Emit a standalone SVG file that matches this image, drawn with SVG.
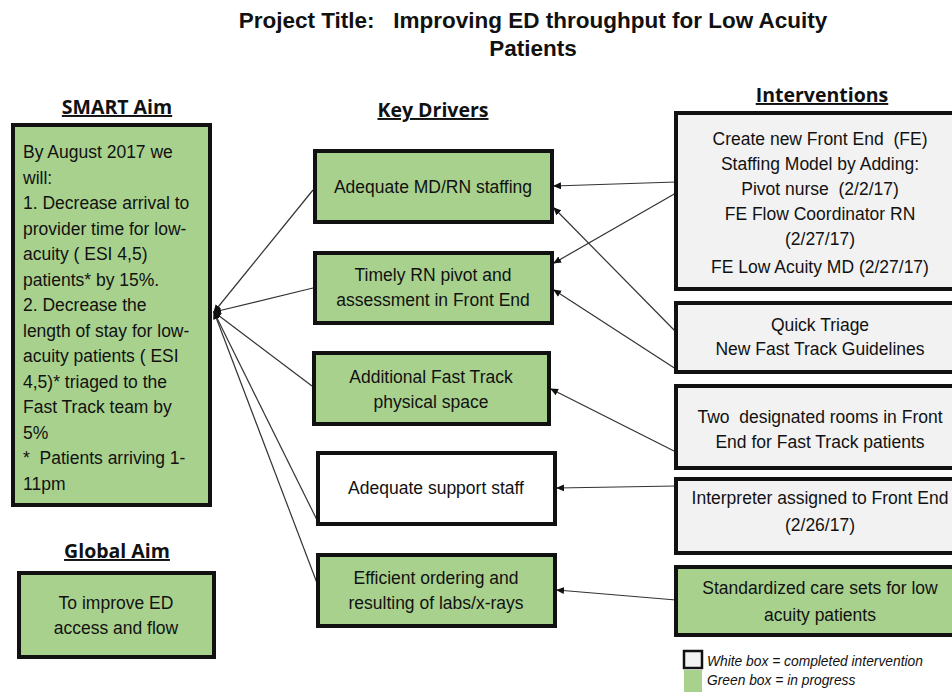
<svg xmlns="http://www.w3.org/2000/svg" width="952" height="692" viewBox="0 0 952 692">
<style>
.t{font-family:"Liberation Sans",Arial,sans-serif;font-size:17.5px;fill:#111;}
.c{text-anchor:middle;}
.h{font-family:"Open Sans",Lato,sans-serif;font-weight:bold;font-size:19.5px;fill:#111;text-anchor:middle;text-decoration:underline;}
.title{font-family:"Liberation Sans",Arial,sans-serif;font-weight:bold;font-size:22.5px;fill:#111;text-anchor:middle;}
.g{fill:#a9d18e;stroke:#111;stroke-width:4;}
.w{fill:#ffffff;stroke:#111;stroke-width:4;}
.i{fill:#f2f2f3;stroke:#111;stroke-width:4;}
.ln{stroke:#333;stroke-width:1.2;fill:none;}
.lg{font-family:"Liberation Sans",Arial,sans-serif;font-style:italic;font-size:13.8px;fill:#111;}
</style>
<defs>
<marker id="ah" markerWidth="8" markerHeight="8" refX="7" refY="4" orient="auto" markerUnits="userSpaceOnUse">
<path d="M0,0.5 L8,4 L0,7.5 Z" fill="#111"/>
</marker>
</defs>
<rect width="952" height="692" fill="#ffffff"/>

<g id="title">
<text class="title" x="533" y="28" xml:space="preserve">Project Title:   Improving ED throughput for Low Acuity</text>
<text class="title" x="533" y="56">Patients</text>
</g>

<g id="headers">
<text class="h" x="117" y="114">SMART Aim</text>
<text class="h" x="433" y="117">Key Drivers</text>
<text class="h" x="822" y="102">Interventions</text>
<text class="h" x="117" y="558">Global Aim</text>
</g>

<g id="connectors">
<line class="ln" x1="313" y1="190" x2="214" y2="312" marker-end="url(#ah)"/>
<line class="ln" x1="313" y1="288" x2="214" y2="312" marker-end="url(#ah)"/>
<line class="ln" x1="312" y1="386" x2="214" y2="312" marker-end="url(#ah)"/>
<line class="ln" x1="317" y1="520" x2="214" y2="312" marker-end="url(#ah)"/>
<line class="ln" x1="317" y1="583" x2="214" y2="312" marker-end="url(#ah)"/>
<line class="ln" x1="676" y1="182" x2="554" y2="186" marker-end="url(#ah)"/>
<line class="ln" x1="676" y1="193" x2="554" y2="263" marker-end="url(#ah)"/>
<line class="ln" x1="677" y1="333" x2="554" y2="208" marker-end="url(#ah)"/>
<line class="ln" x1="679" y1="371" x2="554" y2="290" marker-end="url(#ah)"/>
<line class="ln" x1="676" y1="452" x2="551" y2="389" marker-end="url(#ah)"/>
<line class="ln" x1="676" y1="486" x2="557" y2="488" marker-end="url(#ah)"/>
<line class="ln" x1="676" y1="600" x2="557" y2="590" marker-end="url(#ah)"/>
</g>

<g id="smart-aim">
<rect class="g" x="13" y="125" width="197" height="380"/>
<text class="t" x="23" y="158">By August 2017 we</text>
<text class="t" x="23" y="183.5">will:</text>
<text class="t" x="23" y="209">1. Decrease arrival to</text>
<text class="t" x="23" y="234.5">provider time for low-</text>
<text class="t" x="23" y="260">acuity ( ESI 4,5)</text>
<text class="t" x="23" y="285.5">patients* by 15%.</text>
<text class="t" x="23" y="311">2. Decrease the</text>
<text class="t" x="23" y="336.5">length of stay for low-</text>
<text class="t" x="23" y="362">acuity patients ( ESI</text>
<text class="t" x="23" y="387.5">4,5)* triaged to the</text>
<text class="t" x="23" y="413">Fast Track team by</text>
<text class="t" x="23" y="438.5">5%</text>
<text class="t" x="23" y="464" xml:space="preserve">*  Patients arriving 1-</text>
<text class="t" x="23" y="489.5">11pm</text>
</g>

<g id="global-aim">
<rect class="g" x="19" y="573" width="195" height="84"/>
<text class="t c" x="116" y="609">To improve ED</text>
<text class="t c" x="116" y="634">access and flow</text>
</g>

<g id="driver-1">
<rect class="g" x="315" y="151" width="237" height="71"/>
<text class="t c" x="433" y="193">Adequate MD/RN staffing</text>
</g>
<g id="driver-2">
<rect class="g" x="315" y="253" width="237" height="70"/>
<text class="t c" x="433" y="281">Timely RN pivot and</text>
<text class="t c" x="433" y="306">assessment in Front End</text>
</g>
<g id="driver-3">
<rect class="g" x="314" y="353" width="235" height="71"/>
<text class="t c" x="431" y="383">Additional Fast Track</text>
<text class="t c" x="431" y="408">physical space</text>
</g>
<g id="driver-4">
<rect class="w" x="318" y="453" width="237" height="71"/>
<text class="t c" x="436" y="494">Adequate support staff</text>
</g>
<g id="driver-5">
<rect class="g" x="318" y="555" width="237" height="71"/>
<text class="t c" x="436" y="584">Efficient ordering and</text>
<text class="t c" x="436" y="609">resulting of labs/x-rays</text>
</g>

<g id="intervention-1">
<rect class="i" x="676" y="113" width="282" height="176"/>
<text class="t c" x="820" y="145" xml:space="preserve">Create new Front End  (FE)</text>
<text class="t c" x="820" y="170">Staffing Model by Adding:</text>
<text class="t c" x="820" y="195" xml:space="preserve">Pivot nurse  (2/2/17)</text>
<text class="t c" x="820" y="220">FE Flow Coordinator RN</text>
<text class="t c" x="820" y="245">(2/27/17)</text>
<text class="t c" x="820" y="273">FE Low Acuity MD (2/27/17)</text>
</g>
<g id="intervention-2">
<rect class="i" x="676" y="303" width="282" height="69"/>
<text class="t c" x="820" y="331">Quick Triage</text>
<text class="t c" x="820" y="355">New Fast Track Guidelines</text>
</g>
<g id="intervention-3">
<rect class="i" x="676" y="386" width="282" height="82"/>
<text class="t c" x="820" y="423" xml:space="preserve">Two  designated rooms in Front</text>
<text class="t c" x="820" y="448">End for Fast Track patients</text>
</g>
<g id="intervention-4">
<rect class="i" x="676" y="479" width="282" height="74"/>
<text class="t c" x="820" y="504">Interpreter assigned to Front End</text>
<text class="t c" x="820" y="531">(2/26/17)</text>
</g>
<g id="intervention-5">
<rect class="g" x="676" y="567" width="282" height="68"/>
<text class="t c" x="820" y="594">Standardized care sets for low</text>
<text class="t c" x="820" y="621">acuity patients</text>
</g>

<g id="legend">
<rect x="684" y="651" width="18" height="17" fill="#f2f2f3" stroke="#111" stroke-width="2.5"/>
<rect x="684" y="670" width="18" height="22" fill="#a9d18e"/>
<text class="lg" x="707" y="666">White box = completed intervention</text>
<text class="lg" x="707" y="685">Green box = in progress</text>
</g>
</svg>
